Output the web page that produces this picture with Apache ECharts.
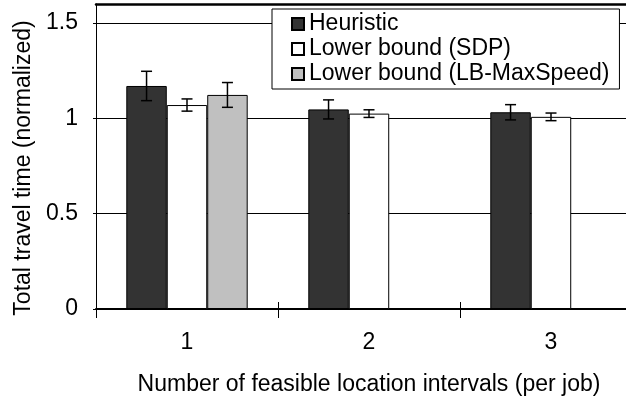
<!DOCTYPE html>
<html>
<head>
<meta charset="utf-8">
<script src="https://cdn.jsdelivr.net/npm/echarts@6/dist/echarts.min.js"></script>
<style>
  html, body { margin: 0; padding: 0; background: #fff; overflow: hidden; }
  #main { width: 650px; height: 397px; }
</style>
</head>
<body>
<div id="main"></div>
<script>
var categories = ['1', '2', '3'];
var seriesNames = ['Heuristic', 'Lower bound (SDP)', 'Lower bound (LB-MaxSpeed)'];
var heuristic = [1.17, 1.047, 1.032];
var heuristicErr = [0.077, 0.05, 0.04];
var sdp = [1.07, 1.025, 1.008];
var sdpErr = [0.032, 0.02, 0.02];
var lbMaxSpeed = [1.123, null, null];
var lbMaxSpeedErr = [0.065, null, null];
var barColors = ['#333333', '#ffffff', '#c0c0c0'];

var font = "'Liberation Sans', Arial, sans-serif";
// the plot runs past the right edge of the picture, so the container is a bit wider than the window
var chart = echarts.init(document.getElementById('main'));

// error bar data: [category index, low, high]
function errData(vals, errs) {
  var out = [];
  for (var i = 0; i < vals.length; i++) {
    if (vals[i] == null) continue;
    out.push([i, vals[i] - errs[i], vals[i] + errs[i]]);
  }
  return out;
}

function errSeries(k, vals, errs) {
  return {
    type: 'custom',
    z: 10,
    silent: true,
    data: errData(vals, errs),
    encode: { x: 0, y: [1, 2] },
    renderItem: function (params, api) {
      var cat = api.value(0);
      var lo = api.coord([cat, api.value(1)]);
      var hi = api.coord([cat, api.value(2)]);
      var band = api.size([1, 0])[0];
      var barW = band * (2 / 3) / 3;
      var x = lo[0] + (k - 1) * barW;
      var c = 5.5;
      var st = { stroke: '#000', lineWidth: 1.5 };
      return {
        type: 'group',
        children: [
          { type: 'line', shape: { x1: x, y1: hi[1], x2: x, y2: lo[1] }, style: st },
          { type: 'line', shape: { x1: x - c, y1: hi[1], x2: x + c, y2: hi[1] }, style: st },
          { type: 'line', shape: { x1: x - c, y1: lo[1], x2: x + c, y2: lo[1] }, style: st }
        ]
      };
    }
  };
}

function barSeries(k, vals) {
  return {
    name: seriesNames[k],
    type: 'bar',
    data: vals,
    barGap: 0,
    barCategoryGap: '33.3%',
    itemStyle: { color: barColors[k], borderColor: '#000', borderWidth: 1 },
    emphasis: { disabled: true }
  };
}

var option = {
  animation: false,
  grid: { left: 96, top: 4, width: 546, bottom: 88, outerBoundsMode: 'none', containLabel: false },
  legend: {
    orient: 'vertical',
    left: 272,
    top: 9,
    padding: [2.5, 10, 2.5, 19],
    itemGap: 0,
    itemWidth: 12,
    itemHeight: 12,
    backgroundColor: '#fff',
    borderColor: '#000',
    borderWidth: 1,
    icon: 'rect',
    data: seriesNames,
    textStyle: { fontFamily: font, fontSize: 23, color: '#000', lineHeight: 25 }
  },
  xAxis: [
    {
      type: 'category',
      data: categories,
      position: 'bottom',
      axisLine: { lineStyle: { color: '#000', width: 2 } },
      axisTick: { show: true, length: 9, lineStyle: { color: '#000', width: 1 } },
      axisLabel: { fontFamily: font, fontSize: 23, color: '#000', margin: 22 },
      name: 'Number of feasible location intervals (per job)',
      nameLocation: 'middle',
      nameGap: 64,
      nameTextStyle: { fontFamily: font, fontSize: 23, color: '#000' }
    },
    {
      type: 'category',
      data: categories,
      position: 'top',
      axisLine: { lineStyle: { color: '#000', width: 2.5 } },
      axisTick: { show: false },
      axisLabel: { show: false }
    },
    {
      type: 'category',
      data: categories,
      position: 'bottom',
      axisLine: { show: false },
      axisTick: { show: true, inside: true, length: 7, lineStyle: { color: '#000', width: 1 } },
      axisLabel: { show: false }
    }
  ],
  yAxis: {
    type: 'value',
    min: 0,
    max: 1.6,
    interval: 0.5,
    axisLine: { show: true, lineStyle: { color: '#000', width: 1 } },
    axisTick: { show: true, length: 3, lineStyle: { color: '#000' } },
    axisLabel: { fontFamily: font, fontSize: 23, color: '#000', margin: 18, padding: [8, 0, 0, 0], showMaxLabel: false },
    splitLine: { lineStyle: { color: '#000', width: 1 } }
  },
  graphic: [
    {
      type: 'text',
      x: 24,
      y: 168,
      rotation: Math.PI / 2,
      style: {
        text: 'Total travel time (normalized)',
        font: '23px ' + font,
        fill: '#000',
        textAlign: 'center',
        textVerticalAlign: 'middle'
      }
    }
  ],
  series: [
    barSeries(0, heuristic),
    barSeries(1, sdp),
    barSeries(2, lbMaxSpeed),
    errSeries(0, heuristic, heuristicErr),
    errSeries(1, sdp, sdpErr),
    errSeries(2, lbMaxSpeed, lbMaxSpeedErr)
  ]
};

chart.setOption(option);
</script>
</body>
</html>
